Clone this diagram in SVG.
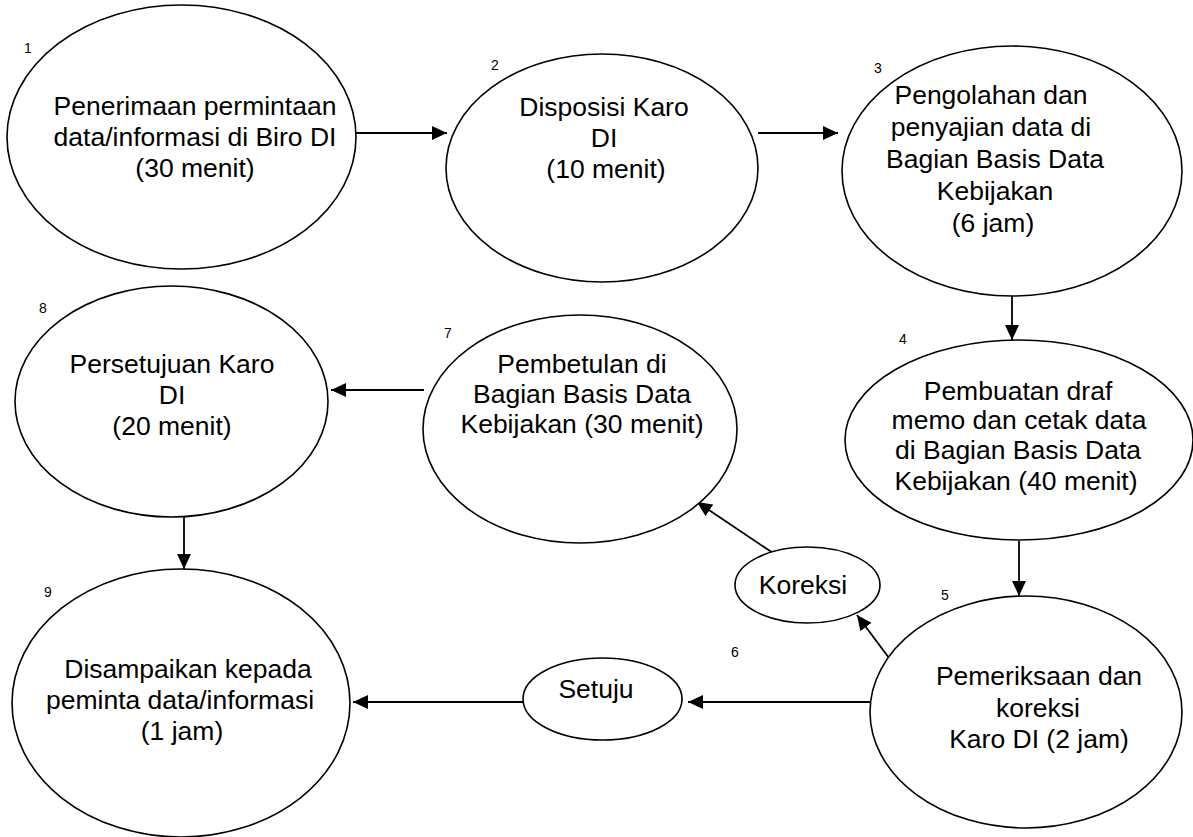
<svg xmlns="http://www.w3.org/2000/svg" width="1193" height="837" viewBox="0 0 1193 837">
<style>
.n{fill:#fff;stroke:#000;stroke-width:1.6}
.t{font-family:"Liberation Sans",Arial,sans-serif;font-size:26.5px;fill:#000;text-anchor:middle}
.s{font-family:"Liberation Sans",Arial,sans-serif;font-size:14px;fill:#000}
.c{stroke:#000;stroke-width:1.8;fill:none;marker-end:url(#ah)}
</style>
<defs>
<marker id="ah" markerUnits="userSpaceOnUse" markerWidth="16" markerHeight="14" refX="15" refY="7" orient="auto">
<path d="M0,0 L15,7 L0,14 z" fill="#000"/>
</marker>
</defs>
<rect width="1193" height="837" fill="#fff"/>
<g id="connectors">
<line class="c" x1="356" y1="133" x2="447" y2="133"/>
<line class="c" x1="758" y1="133" x2="838" y2="133"/>
<line class="c" x1="1012" y1="296" x2="1012" y2="340"/>
<line class="c" x1="1019" y1="541" x2="1019" y2="596"/>
<line class="c" x1="889" y1="658" x2="857" y2="615"/>
<line class="c" x1="773" y1="553" x2="697" y2="502"/>
<line class="c" x1="870" y1="702" x2="688" y2="702"/>
<line class="c" x1="523" y1="702" x2="353" y2="702"/>
<line class="c" x1="424" y1="390" x2="331" y2="390"/>
<line class="c" x1="184" y1="517" x2="184" y2="569"/>
</g>
<g id="n1">
<ellipse class="n" cx="181.5" cy="137" rx="174.5" ry="132"/>
<text class="s" x="24" y="53">1</text>
<text class="t" x="195" y="115">Penerimaan permintaan</text>
<text class="t" x="195" y="146">data/informasi di Biro DI</text>
<text class="t" x="195" y="177">(30 menit)</text>
</g>
<g id="n2">
<ellipse class="n" cx="602" cy="168" rx="156" ry="114"/>
<text class="s" x="491" y="70">2</text>
<text class="t" x="604" y="116">Disposisi Karo</text>
<text class="t" x="604" y="147">DI</text>
<text class="t" x="606" y="178">(10 menit)</text>
</g>
<g id="n3">
<ellipse class="n" cx="1012" cy="171" rx="170" ry="125"/>
<text class="s" x="874" y="73">3</text>
<text class="t" x="991" y="104">Pengolahan dan</text>
<text class="t" x="991" y="136">penyajian data di</text>
<text class="t" x="995" y="168">Bagian Basis Data</text>
<text class="t" x="995" y="200">Kebijakan</text>
<text class="t" x="993" y="232">(6 jam)</text>
</g>
<g id="n4">
<ellipse class="n" cx="1019" cy="440" rx="174" ry="100"/>
<text class="s" x="899" y="344">4</text>
<text class="t" x="1018" y="400">Pembuatan draf</text>
<text class="t" x="1019" y="429">memo dan cetak data</text>
<text class="t" x="1018" y="459">di Bagian Basis Data</text>
<text class="t" x="1016" y="490">Kebijakan (40 menit)</text>
</g>
<g id="n5">
<ellipse class="n" cx="1026" cy="712" rx="156" ry="116"/>
<text class="s" x="941" y="600">5</text>
<text class="t" x="1039" y="685">Pemeriksaan dan</text>
<text class="t" x="1038" y="717">koreksi</text>
<text class="t" x="1039" y="748">Karo DI (2 jam)</text>
</g>
<g id="koreksi">
<ellipse class="n" cx="807.5" cy="585" rx="72.5" ry="38"/>
<text class="t" x="803" y="594">Koreksi</text>
</g>
<g id="setuju">
<ellipse class="n" cx="602.5" cy="699" rx="79.5" ry="41"/>
<text class="t" x="596" y="698">Setuju</text>
</g>
<text class="s" x="731" y="657">6</text>
<g id="n7">
<ellipse class="n" cx="580" cy="429" rx="157" ry="114"/>
<text class="s" x="444" y="338">7</text>
<text class="t" x="582" y="373">Pembetulan di</text>
<text class="t" x="582" y="403">Bagian Basis Data</text>
<text class="t" x="582" y="433">Kebijakan (30 menit)</text>
</g>
<g id="n8">
<ellipse class="n" cx="171.5" cy="401.5" rx="156.5" ry="115.5"/>
<text class="s" x="39" y="313">8</text>
<text class="t" x="172" y="373">Persetujuan Karo</text>
<text class="t" x="172" y="404">DI</text>
<text class="t" x="172" y="435">(20 menit)</text>
</g>
<g id="n9">
<ellipse class="n" cx="181" cy="703" rx="169" ry="134"/>
<text class="s" x="44" y="597">9</text>
<text class="t" x="188" y="678">Disampaikan kepada</text>
<text class="t" x="180" y="709">peminta data/informasi</text>
<text class="t" x="182" y="740">(1 jam)</text>
</g>
</svg>
